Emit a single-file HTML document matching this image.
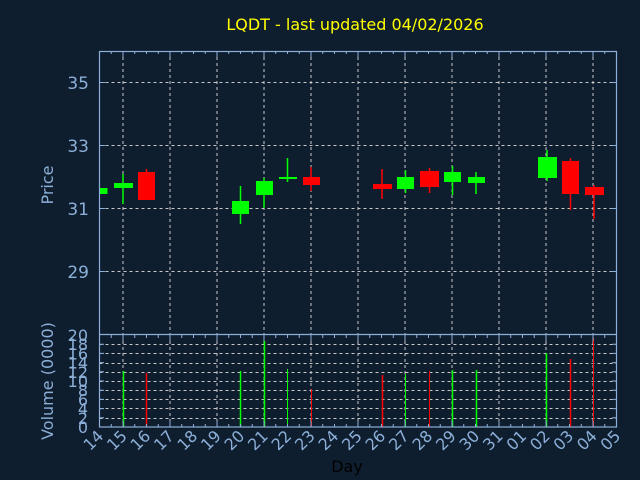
<!DOCTYPE html>
<html><head><meta charset="utf-8"><style>
html,body{margin:0;padding:0;background:#0f1e2f;}
svg{display:block;font-family:"DejaVu Sans","Liberation Sans",sans-serif;}
</style></head><body>
<svg width="640" height="480" viewBox="0 0 640 480" xmlns="http://www.w3.org/2000/svg">
<rect width="640" height="480" fill="#0f1e2f"/>
<text x="355" y="30" fill="#ffff00" font-size="16" text-anchor="middle">LQDT - last updated 04/02/2026</text>
<g stroke="#c8c8c8" stroke-width="1" stroke-dasharray="3,3" fill="none">
<path d="M99.5 82.5H617M99.5 145.5H617M99.5 208.5H617M99.5 271.5H617"/>
<path d="M123 51V335M170 51V335M217 51V335M264 51V335M311 51V335M358 51V335M405 51V335M452 51V335M499 51V335M546 51V335M593 51V335"/>
<path d="M99.5 344.5H617M99.5 353.5H617M99.5 363.5H617M99.5 372.5H617M99.5 381.5H617M99.5 390.5H617M99.5 399.5H617M99.5 408.5H617M99.5 418.5H617"/>
<path d="M123 335V427M170 335V427M217 335V427M264 335V427M311 335V427M358 335V427M405 335V427M452 335V427M499 335V427M546 335V427M593 335V427"/>
</g>
<g fill="#00ff00" stroke="#00ff00">
<rect x="99.5" y="188" width="8" height="6" stroke="none"/>
<line x1="123" y1="174" x2="123" y2="204" stroke-width="1.5"/><rect x="114" y="183" width="19" height="5" stroke="none"/>
<line x1="240.5" y1="186" x2="240.5" y2="224" stroke-width="1.5"/><rect x="232" y="201" width="17" height="13" stroke="none"/>
<line x1="264" y1="178" x2="264" y2="208" stroke-width="1.5"/><rect x="256" y="181" width="17" height="14" stroke="none"/>
<line x1="287.5" y1="158" x2="287.5" y2="182" stroke-width="1.5"/><rect x="279" y="177" width="18" height="2" stroke="none"/>
<line x1="405.5" y1="170" x2="405.5" y2="193" stroke-width="1.5"/><rect x="397" y="177" width="17" height="12" stroke="none"/>
<line x1="452.5" y1="166" x2="452.5" y2="195" stroke-width="1.5"/><rect x="444" y="172" width="17" height="10" stroke="none"/>
<line x1="476" y1="172" x2="476" y2="194" stroke-width="1.5"/><rect x="468" y="177" width="17" height="6" stroke="none"/>
<line x1="547" y1="150" x2="547" y2="181" stroke-width="1.5"/><rect x="538" y="157" width="19" height="21" stroke="none"/>
</g>
<g fill="#ff0000" stroke="#ff0000">
<line x1="146.5" y1="169" x2="146.5" y2="200" stroke-width="1.5"/><rect x="138" y="172" width="17" height="28" stroke="none"/>
<line x1="311" y1="167" x2="311" y2="191" stroke-width="1.5"/><rect x="303" y="177" width="17" height="8" stroke="none"/>
<line x1="382" y1="169" x2="382" y2="199" stroke-width="1.5"/><rect x="373" y="184" width="19" height="5" stroke="none"/>
<line x1="429.5" y1="168" x2="429.5" y2="193" stroke-width="1.5"/><rect x="420" y="171" width="19" height="16" stroke="none"/>
<line x1="570.5" y1="158" x2="570.5" y2="210" stroke-width="1.5"/><rect x="562" y="161" width="17" height="33" stroke="none"/>
<line x1="594" y1="185" x2="594" y2="219" stroke-width="1.5"/><rect x="585" y="187" width="19" height="8" stroke="none"/>
</g>
<g stroke-width="1.5">
<line x1="123.5" y1="371" x2="123.5" y2="427" stroke="#00ff00"/>
<line x1="146.5" y1="373" x2="146.5" y2="427" stroke="#ff0000"/>
<line x1="240.5" y1="371" x2="240.5" y2="427" stroke="#00ff00"/>
<line x1="264.5" y1="341" x2="264.5" y2="427" stroke="#00ff00"/>
<line x1="287.5" y1="369" x2="287.5" y2="427" stroke="#00ff00" stroke-width="1"/>
<line x1="311.5" y1="389" x2="311.5" y2="427" stroke="#ff0000" stroke-width="1"/>
<line x1="382.5" y1="375" x2="382.5" y2="427" stroke="#ff0000"/>
<line x1="405.5" y1="374" x2="405.5" y2="427" stroke="#00ff00" stroke-width="1"/>
<line x1="429.5" y1="371" x2="429.5" y2="427" stroke="#ff0000" stroke-width="1"/>
<line x1="452.5" y1="370" x2="452.5" y2="427" stroke="#00ff00"/>
<line x1="476.5" y1="370" x2="476.5" y2="427" stroke="#00ff00"/>
<line x1="546.5" y1="353" x2="546.5" y2="427" stroke="#00ff00"/>
<line x1="570.5" y1="359" x2="570.5" y2="427" stroke="#ff0000"/>
<line x1="593.5" y1="338" x2="593.5" y2="427" stroke="#ff0000" stroke-width="1"/>
</g>
<g stroke="#8cafd8" fill="none" stroke-width="1.2">
<rect x="99.5" y="51.5" width="517" height="375.5"/>
<line x1="99.5" y1="334.5" x2="617" y2="334.5"/>
</g>
<g stroke="#8cafd8" stroke-width="1" fill="none">
<path d="M123 51v6M170 51v6M217 51v6M264 51v6M311 51v6M358 51v6M405 51v6M452 51v6M499 51v6M546 51v6M593 51v6
M111.25 51v3M134.75 51v3M158.25 51v3M181.75 51v3M205.25 51v3M228.75 51v3M252.25 51v3M275.75 51v3M299.25 51v3M322.75 51v3M346.25 51v3M369.75 51v3M393.25 51v3M416.75 51v3M440.25 51v3M463.75 51v3M487.25 51v3M510.75 51v3M534.25 51v3M557.75 51v3M581.25 51v3M604.75 51v3
M146.5 51v3M193.5 51v3M240.5 51v3M287.5 51v3M334.5 51v3M381.5 51v3M428.5 51v3M475.5 51v3M522.5 51v3M569.5 51v3
M123 335v6M170 335v6M217 335v6M264 335v6M311 335v6M358 335v6M405 335v6M452 335v6M499 335v6M546 335v6M593 335v6
M111.25 335v3M134.75 335v3M146.5 335v3M158.25 335v3M181.75 335v3M193.5 335v3M205.25 335v3M228.75 335v3M240.5 335v3M252.25 335v3M275.75 335v3M287.5 335v3M299.25 335v3M322.75 335v3M334.5 335v3M346.25 335v3M369.75 335v3M381.5 335v3M393.25 335v3M416.75 335v3M428.5 335v3M440.25 335v3M463.75 335v3M475.5 335v3M487.25 335v3M510.75 335v3M522.5 335v3M534.25 335v3M557.75 335v3M569.5 335v3M581.25 335v3M604.75 335v3
M123 427v-6M170 427v-6M217 427v-6M264 427v-6M311 427v-6M358 427v-6M405 427v-6M452 427v-6M499 427v-6M546 427v-6M593 427v-6
M111.25 427v-3M134.75 427v-3M146.5 427v-3M158.25 427v-3M181.75 427v-3M193.5 427v-3M205.25 427v-3M228.75 427v-3M240.5 427v-3M252.25 427v-3M275.75 427v-3M287.5 427v-3M299.25 427v-3M322.75 427v-3M334.5 427v-3M346.25 427v-3M369.75 427v-3M381.5 427v-3M393.25 427v-3M416.75 427v-3M428.5 427v-3M440.25 427v-3M463.75 427v-3M475.5 427v-3M487.25 427v-3M510.75 427v-3M522.5 427v-3M534.25 427v-3M557.75 427v-3M569.5 427v-3M581.25 427v-3M604.75 427v-3
M99 82.5h6M99 145.5h6M99 208.5h6M99 271.5h6M617 82.5h-6M617 145.5h-6M617 208.5h-6M617 271.5h-6
M99 344.2h5M99 353.4h5M99 362.6h5M99 371.8h5M99 381h5M99 390.2h5M99 399.4h5M99 408.6h5M99 417.8h5
M617 344.2h-5M617 353.4h-5M617 362.6h-5M617 371.8h-5M617 381h-5M617 390.2h-5M617 399.4h-5M617 408.6h-5M617 417.8h-5"/>
</g>
<g fill="#8cafd8" font-size="17" text-anchor="end">
<text x="89" y="89">35</text><text x="89" y="152">33</text><text x="89" y="215">31</text><text x="89" y="278">29</text>
</g>
<g fill="#8cafd8" font-size="16" text-anchor="end">
<text x="88" y="433">0</text><text x="88" y="423.8">2</text><text x="88" y="414.6">4</text><text x="88" y="405.4">6</text><text x="88" y="396.2">8</text><text x="88" y="387">10</text><text x="88" y="377.8">12</text><text x="88" y="368.6">14</text><text x="88" y="359.4">16</text><text x="88" y="350.2">18</text><text x="88" y="341">20</text>
</g>
<text transform="translate(53,185) rotate(-90)" fill="#8cafd8" font-size="16" text-anchor="middle">Price</text>
<text transform="translate(53,381) rotate(-90)" fill="#8cafd8" font-size="16" text-anchor="middle">Volume (0000)</text>
<g fill="#8cafd8" font-size="16" text-anchor="end">
<text transform="translate(104.5,437) rotate(-45)">14</text>
<text transform="translate(128,437) rotate(-45)">15</text>
<text transform="translate(151.5,437) rotate(-45)">16</text>
<text transform="translate(175,437) rotate(-45)">17</text>
<text transform="translate(198.5,437) rotate(-45)">18</text>
<text transform="translate(222,437) rotate(-45)">19</text>
<text transform="translate(245.5,437) rotate(-45)">20</text>
<text transform="translate(269,437) rotate(-45)">21</text>
<text transform="translate(292.5,437) rotate(-45)">22</text>
<text transform="translate(316,437) rotate(-45)">23</text>
<text transform="translate(339.5,437) rotate(-45)">24</text>
<text transform="translate(363,437) rotate(-45)">25</text>
<text transform="translate(386.5,437) rotate(-45)">26</text>
<text transform="translate(410,437) rotate(-45)">27</text>
<text transform="translate(433.5,437) rotate(-45)">28</text>
<text transform="translate(457,437) rotate(-45)">29</text>
<text transform="translate(480.5,437) rotate(-45)">30</text>
<text transform="translate(504,437) rotate(-45)">31</text>
<text transform="translate(527.5,437) rotate(-45)">01</text>
<text transform="translate(551,437) rotate(-45)">02</text>
<text transform="translate(574.5,437) rotate(-45)">03</text>
<text transform="translate(598,437) rotate(-45)">04</text>
<text transform="translate(621.5,437) rotate(-45)">05</text>
</g>
<text x="347" y="472" fill="#000" font-size="16" text-anchor="middle">Day</text>
</svg>
</body></html>
